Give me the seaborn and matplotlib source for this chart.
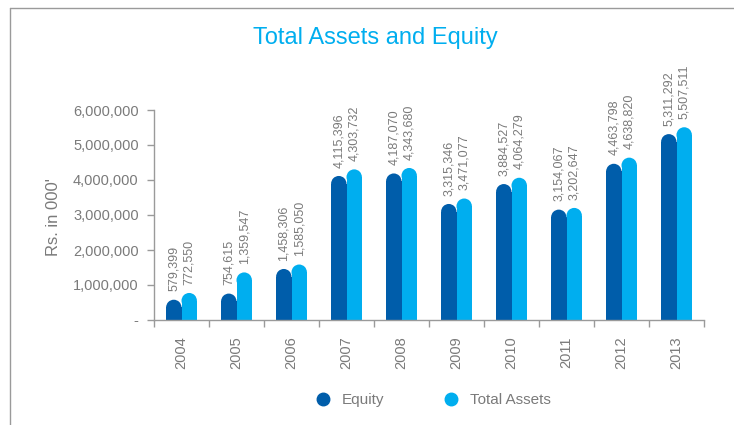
import numpy as np
import pandas as pd
import matplotlib
matplotlib.use("Agg")
import matplotlib.pyplot as plt
import seaborn as sns
from matplotlib.patches import Ellipse, Rectangle
from matplotlib.lines import Line2D

# ---- data ----
years = ["2004", "2005", "2006", "2007", "2008", "2009", "2010", "2011", "2012", "2013"]
equity = [579399, 754615, 1458306, 4115396, 4187070, 3315346, 3884527, 3154067, 4463798, 5311292]
total_assets = [772550, 1359547, 1585050, 4303732, 4343680, 3471077, 4064279, 3202647, 4638820, 5507511]
series_names = ["Equity", "Total Assets"]
ytick_values = [0, 1000000, 2000000, 3000000, 4000000, 5000000, 6000000]
ytick_labels = ["-", "1,000,000", "2,000,000", "3,000,000", "4,000,000", "5,000,000", "6,000,000"]

colors = ["#005DAA", "#00AEEF"]
gray_text = "#7a7a7a"
axis_gray = "#9a9a9a"

df = pd.DataFrame({"Year": years * 2,
                   "Value": equity + total_assets,
                   "Series": [series_names[0]] * len(years) + [series_names[1]] * len(years)})

sns.set_theme(style="white")
plt.rcParams["font.family"] = ["Liberation Sans", "DejaVu Sans"]

W, H = 734, 425
fig = plt.figure(figsize=(W / 100, H / 100), dpi=100)
ax = fig.add_axes([154 / W, 1 - 320 / H, 550 / W, 210 / H])

sns.barplot(data=df, x="Year", y="Value", hue="Series", palette=colors,
            width=0.56, saturation=1, ax=ax, legend=False, errorbar=None)

ax.set_xlim(-0.5, len(years) - 0.5)
ax.set_ylim(0, 6000000)

# rounded tops
fig.canvas.draw()
p0 = ax.transData.transform((0, 0))
p1 = ax.transData.transform((1, 1000000))
px_x = p1[0] - p0[0]
px_y = (p1[1] - p0[1]) / 1000000.0
bars = [p for p in ax.patches if isinstance(p, Rectangle)]
for p in bars:
    x, w, h = p.get_x(), p.get_width(), p.get_height()
    if h <= 0:
        continue
    ry = (w * px_x / 2) / px_y
    fc = p.get_facecolor()
    p.set_height(h - ry)
    p.set_linewidth(0)
    ax.add_patch(Ellipse((x + w / 2, h - ry), w, 2 * ry, facecolor=fc, lw=0, zorder=p.get_zorder()))
    ax.annotate(f"{int(round(h)):,}", (x + w / 2, h), xytext=(0, 6), textcoords="offset points",
                rotation=90, ha="center", va="bottom", fontsize=9, color=gray_text,
                annotation_clip=False)

# axes styling
for s in ["top", "right"]:
    ax.spines[s].set_visible(False)
for s in ["left", "bottom"]:
    ax.spines[s].set_color(axis_gray)
    ax.spines[s].set_linewidth(1)

ax.set_yticks(ytick_values)
ax.set_yticklabels(ytick_labels)
ax.tick_params(axis="y", left=True, length=5, width=1, color=axis_gray, labelsize=10.5,
               labelcolor=gray_text, pad=6)
ax.set_xticks(range(len(years)))
ax.set_xticklabels(years, rotation=90)
ax.set_xticks(np.arange(-0.5, len(years), 1.0), minor=True)
ax.tick_params(axis="x", which="major", length=0, labelsize=10.5, labelcolor=gray_text, pad=12)
ax.tick_params(axis="x", which="minor", bottom=True, length=5, width=1, color=axis_gray)
ax.set_xlabel("")
ax.set_ylabel("Rs. in 000'", fontsize=12, color=gray_text)
ax.yaxis.set_label_coords(-0.17, 0.49)
ax.grid(False)

# title
fig.text(375 / W, 1 - 38 / H, "Total Assets and Equity", ha="center", va="center",
         fontsize=17, color="#00AEEF")

# legend
handles = [Line2D([0], [0], marker="o", linestyle="none", markersize=9,
                  markerfacecolor=c, markeredgecolor=c) for c in colors]
fig.legend(handles, series_names, loc="center", bbox_to_anchor=(433 / W, 1 - 400 / H),
           ncol=2, frameon=False, fontsize=11, handlelength=1.0, handletextpad=0.74,
           columnspacing=3.9, labelcolor=gray_text)

# frame
fig.add_artist(Line2D([10 / W, 10 / W], [0, 1 - 8 / H], transform=fig.transFigure,
                      color=axis_gray, lw=1))
fig.add_artist(Line2D([10 / W, 1], [1 - 8 / H, 1 - 8 / H], transform=fig.transFigure,
                      color=axis_gray, lw=1))

fig.savefig("out.png", dpi=100)
